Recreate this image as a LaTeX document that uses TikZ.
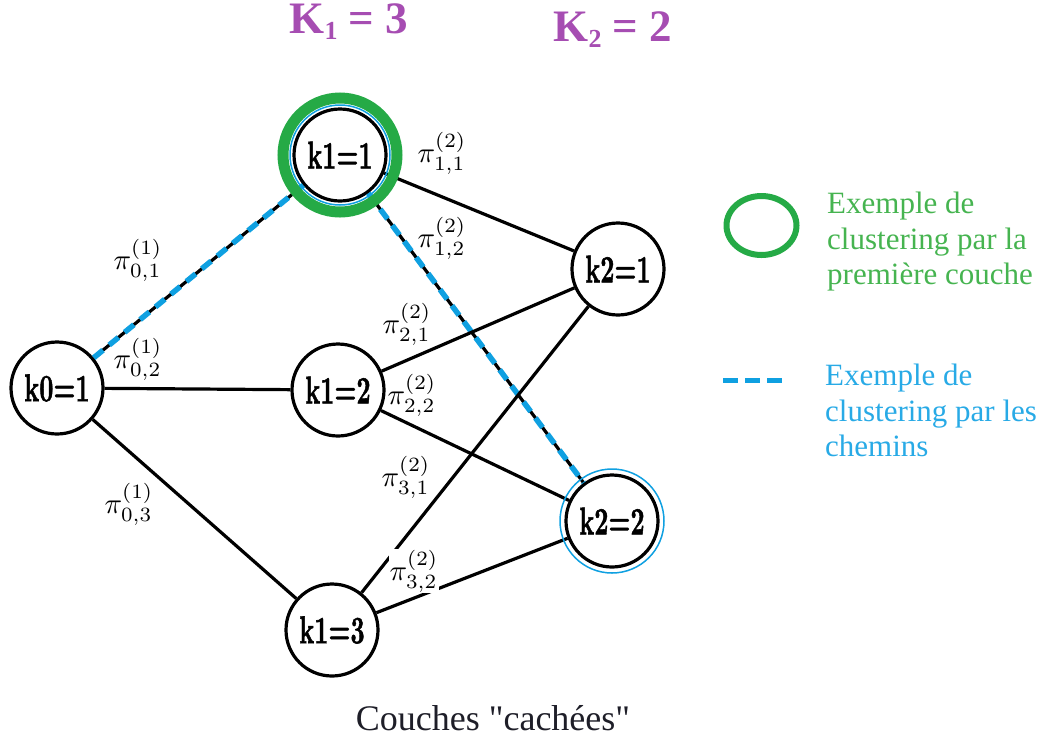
\documentclass[tikz,border=0pt]{standalone}
\usepackage{graphicx}
\usepackage{fontspec}
\newfontfamily\libser{Liberation Serif}
\newfontfamily\kfont{lmroman10-bold.otf}[FakeBold=1.5]
\definecolor{kpurple}{RGB}{166,77,178}
\definecolor{ringgreen}{RGB}{37,170,70}
\definecolor{txtgreen}{RGB}{70,180,80}
\definecolor{pathblue}{RGB}{15,160,225}
\definecolor{txtblue}{RGB}{40,170,230}
\definecolor{darktxt}{RGB}{30,30,40}
\newcommand{\pil}[3]{\scalebox{2.9}{$\pi^{(#1)}_{#2,#3}$}}
\newcommand{\ktext}[1]{\scalebox{0.88}[1.38]{#1}}
\begin{document}
\begin{tikzpicture}[x=1pt,y=-1pt,
  knode/.style={circle,draw,line width=3.2pt,minimum size=92pt,inner sep=0pt,fill=white,
    font=\kfont\fontsize{28}{30}\selectfont},
  edge/.style={line width=3.2pt},
  pathdash/.style={line width=5.5pt,pathblue,dash pattern=on 12pt off 8pt},
  lab/.style={inner sep=1pt},
  title/.style={font=\libser\fontsize{45}{45}\selectfont\bfseries,text=kpurple},
  legtext/.style={font=\libser\fontsize{31}{35.5}\selectfont,align=left,inner sep=0pt,anchor=north west},
  ring/.style={ringgreen,line width=11pt},
  thinring/.style={pathblue,line width=1.5pt}]
\useasboundingbox (0,0) rectangle (1044,740);
% titles
\node[title] (t1) at (349,22) {K\raisebox{-6pt}{\fontsize{26}{26}\selectfont 1} = 3};
\node[title] (t2) at (613,30) {K\raisebox{-6pt}{\fontsize{26}{26}\selectfont 2} = 2};
% nodes
\node[knode] (k0) at (57,388) {\ktext{k0=1}};
\node[knode] (k11) at (340,155) {\ktext{k1=1}};
\node[knode] (k12) at (338,390) {\ktext{k1=2}};
\node[knode] (k13) at (332,630) {\ktext{k1=3}};
\node[knode] (k21) at (618,269) {\ktext{k2=1}};
\node[knode] (k22) at (612,521) {\ktext{k2=2}};
% edges
\draw[edge] (k0) -- (k11);
\draw[pathdash] (k0) -- (k11);
\draw[edge] (k0) -- (k12);
\draw[edge] (k0) -- (k13);
\draw[edge] (k11) -- (k21);
\draw[edge] (k11) -- (k22);
\draw[pathdash] (k11) -- (k22);
\draw[edge] (k12) -- (k21);
\draw[edge] (k12) -- (k22);
\draw[edge] (k13) -- (k21);
\draw[edge] (k13) -- (k22);
% rings
\draw[thinring] (k11.center) circle[radius=50];
\draw[ring] (k11.center) circle[radius=57];
\draw[thinring] (k22.center) circle[radius=52];
% labels
\node[lab] (l01) at (138,260) {\pil{1}{0}{1}};
\node[lab] (l02) at (138,359) {\pil{1}{0}{2}};
\node[lab] (l03) at (129,504) {\pil{1}{0}{3}};
\node[lab] (l11) at (442,153) {\pil{2}{1}{1}};
\node[lab] (l12) at (442,238) {\pil{2}{1}{2}};
\node[lab] (l21) at (407,324) {\pil{2}{2}{1}};
\node[lab] (l22) at (412,395) {\pil{2}{2}{2}};
\node[lab] (l31) at (406,477) {\pil{2}{3}{1}};
\node[lab,fill=white] (l32) at (414,571) {\pil{2}{3}{2}};
% legend
\draw[ringgreen,line width=6pt] (761.5,225.5) ellipse [x radius=35, y radius=29.5];
\node[legtext,text=txtgreen] (lg1) at (827,192) {Exemple de\\clustering par la\\première couche};
\draw[pathblue,line width=5pt,dash pattern=on 15pt off 7pt] (723,380) -- (783,380);
\node[legtext,text=txtblue] (lg2) at (825,364) {Exemple de\\clustering par les\\chemins};
% caption
\node[font=\libser\fontsize{36}{36}\selectfont,text=darktxt] (cap) at (493,718) {Couches "cachées"};
\end{tikzpicture}
\end{document}
